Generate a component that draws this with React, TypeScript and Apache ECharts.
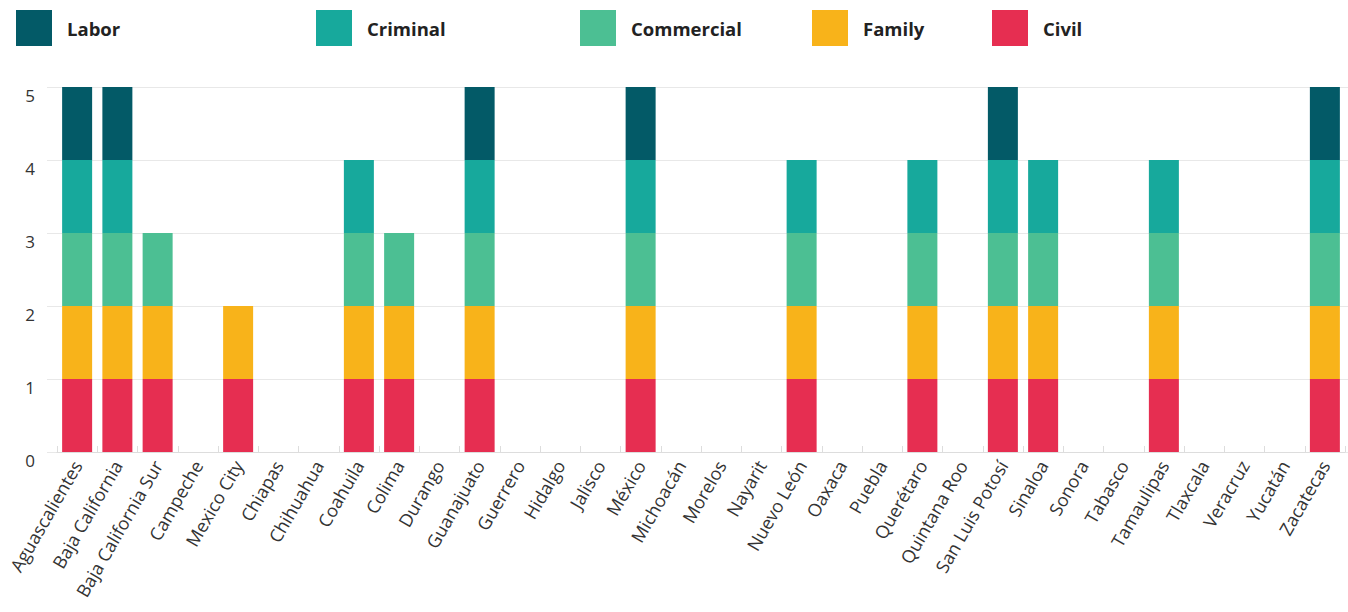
import React, { useEffect, useRef } from "react";
import * as echarts from "echarts";

const states = [
  "Aguascalientes", "Baja California", "Baja California Sur", "Campeche", "Mexico City",
  "Chiapas", "Chihuahua", "Coahuila", "Colima", "Durango", "Guanajuato", "Guerrero",
  "Hidalgo", "Jalisco", "México", "Michoacán", "Morelos", "Nayarit", "Nuevo León",
  "Oaxaca", "Puebla", "Querétaro", "Quintana Roo", "San Luis Potosí", "Sinaloa",
  "Sonora", "Tabasco", "Tamaulipas", "Tlaxcala", "Veracruz", "Yucatán", "Zacatecas",
];

const civil =      [1,1,1,0,1,0,0,1,1,0,1,0,0,0,1,0,0,0,1,0,0,1,0,1,1,0,0,1,0,0,0,1];
const family =     [1,1,1,0,1,0,0,1,1,0,1,0,0,0,1,0,0,0,1,0,0,1,0,1,1,0,0,1,0,0,0,1];
const commercial = [1,1,1,0,0,0,0,1,1,0,1,0,0,0,1,0,0,0,1,0,0,1,0,1,1,0,0,1,0,0,0,1];
const criminal =   [1,1,0,0,0,0,0,1,0,0,1,0,0,0,1,0,0,0,1,0,0,1,0,1,1,0,0,1,0,0,0,1];
const labor =      [1,1,0,0,0,0,0,0,0,0,1,0,0,0,1,0,0,0,0,0,0,0,0,1,0,0,0,0,0,0,0,1];

const yTicks = [0, 1, 2, 3, 4, 5];

const seriesDefs = [
  { name: "Civil", data: civil, color: "#e62e51" },
  { name: "Family", data: family, color: "#f8b31a" },
  { name: "Commercial", data: commercial, color: "#4cbf93" },
  { name: "Criminal", data: criminal, color: "#17a99c" },
  { name: "Labor", data: labor, color: "#035a67" },
];

const legendItems = [
  { name: "Labor", left: 16 },
  { name: "Criminal", left: 316 },
  { name: "Commercial", left: 580 },
  { name: "Family", left: 812 },
  { name: "Civil", left: 992 },
];

const FONT = "'Open Sans', Roboto, sans-serif";

export default function App() {
  const ref = useRef<HTMLDivElement>(null);
  useEffect(() => {
    if (!ref.current) return;
    const chart = echarts.init(ref.current, undefined, { renderer: "svg" });
    chart.setOption({
      animation: false,
      legend: legendItems.map((l) => ({
        data: [l.name],
        left: l.left,
        top: 10,
        padding: 0,
        itemWidth: 36,
        itemHeight: 36,
        icon: "rect",
        selectedMode: false,
        textStyle: {
          fontFamily: FONT,
          fontWeight: "bold",
          fontSize: 18.5,
          color: "#222",
          padding: [0, 0, 0, 10],
        },
      })),
      grid: [
        { left: 47, right: 0, top: 87, bottom: 160 },
        { left: 57, right: 3, top: 87, bottom: 160 },
      ],
      xAxis: [
        { type: "value", gridIndex: 0, show: false, min: 0, max: 1 },
        {
          type: "category",
          gridIndex: 1,
          data: states,
          axisLine: { show: true, lineStyle: { color: "#dddddd", width: 1 } },
          axisTick: { show: true, inside: true, length: 6, alignWithLabel: false, lineStyle: { color: "#dddddd" } },
          axisLabel: {
            interval: 0,
            rotate: 60,
            margin: 10,
            fontFamily: FONT,
            fontSize: 18,
            color: "#333",
          },
        },
      ],
      yAxis: [
        {
          type: "value",
          gridIndex: 0,
          min: 0,
          max: 5,
          interval: 1,
          axisLine: { show: false },
          axisTick: { show: false },
          splitLine: { show: true, lineStyle: { color: "#e8e8e8", width: 1 } },
          axisLabel: {
            margin: 12,
            fontFamily: FONT,
            fontSize: 17,
            color: "#333",
            verticalAlign: "top",
            formatter: (v: number) => (yTicks.includes(v) ? String(v) : ""),
          },
        },
        {
          type: "value",
          gridIndex: 1,
          min: 0,
          max: 5,
          interval: 1,
          show: false,
          splitLine: { show: false },
        },
      ],
      series: seriesDefs.map((s) => ({
        name: s.name,
        type: "bar",
        stack: "total",
        xAxisIndex: 1,
        yAxisIndex: 1,
        barWidth: 30,
        data: s.data,
        itemStyle: { color: s.color },
      })),
    });
    return () => chart.dispose();
  }, []);
  return <div ref={ref} style={{ width: 1348, height: 612, position: "absolute", left: 0, top: 0 }} />;
}
